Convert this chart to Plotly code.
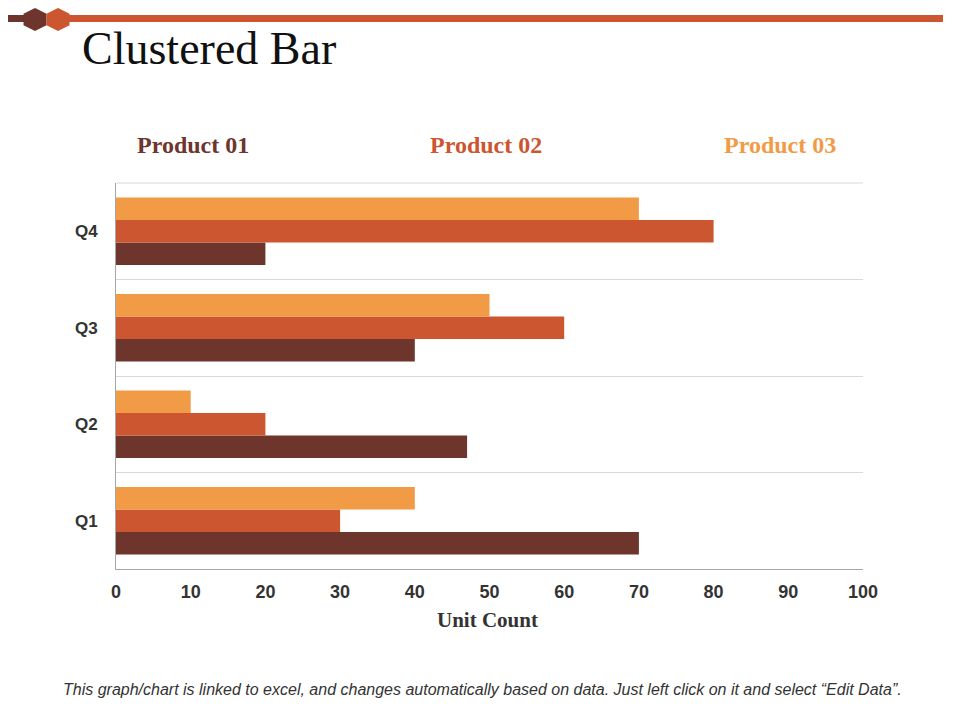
import plotly.graph_objects as go

quarters = ["Q1", "Q2", "Q3", "Q4"]
products = ["Product 01", "Product 02", "Product 03"]
product_01 = [70, 47, 40, 20]
product_02 = [30, 20, 60, 80]
product_03 = [40, 10, 50, 70]
colors = ["#6E352C", "#CC5630", "#F29B47"]

# the page puts the figure 8px in from the top-left corner
OFF = 8
W, H = 960 - OFF, 720 - OFF
# plot area in page pixels
L, R, T, B = 116, 863, 183, 569


def px(x):
    return (x - L) / (R - L)


def py(y):
    return (B - y) / (B - T)


def hexagon(cx, cy, hw, hh):
    pts = [(cx, cy - hh), (cx + hw, cy - hh / 2), (cx + hw, cy + hh / 2),
           (cx, cy + hh), (cx - hw, cy + hh / 2), (cx - hw, cy - hh / 2)]
    return "M " + " L ".join("%.4f,%.4f" % (px(a), py(b)) for a, b in pts) + " Z"


fig = go.Figure()
for name, vals, col in zip(products, [product_01, product_02, product_03], colors):
    fig.add_trace(go.Bar(y=quarters, x=vals, name=name, orientation="h",
                         marker=dict(color=col, line=dict(width=0)), showlegend=False))

shapes = [
    dict(type="rect", xref="paper", yref="paper", x0=px(0), x1=px(26), y0=py(15), y1=py(22),
         fillcolor=colors[0], line=dict(width=0), layer="above"),
    dict(type="rect", xref="paper", yref="paper", x0=px(60), x1=px(943), y0=py(15), y1=py(22),
         fillcolor=colors[1], line=dict(width=0), layer="above"),
    dict(type="path", xref="paper", yref="paper", path=hexagon(35, 19.5, 11.5, 11.5),
         fillcolor=colors[0], line=dict(width=0), layer="above"),
    dict(type="path", xref="paper", yref="paper", path=hexagon(58, 19.5, 11.5, 11.5),
         fillcolor=colors[1], line=dict(width=0), layer="above"),
    # top border of the plot area
    dict(type="line", xref="paper", yref="paper", x0=0, x1=1, y0=1, y1=1,
         line=dict(color="#d9d9d9", width=1), layer="below"),
]

annotations = [
    dict(text="Clustered Bar", xref="paper", yref="paper", x=px(80), y=py(48),
         xanchor="left", yanchor="middle", showarrow=False,
         font=dict(family="Liberation Serif", size=46, color="#111")),
    dict(text="<i>This graph/chart is linked to excel, and changes automatically based on data. "
              "Just left click on it and select \u201cEdit Data\u201d.</i>",
         xref="paper", yref="paper", x=px(482), y=py(689), xanchor="center", yanchor="middle",
         showarrow=False, font=dict(family="Liberation Sans", size=16, color="#333")),
    dict(text="<b>Unit Count</b>", xref="paper", yref="paper", x=px(487), y=py(620),
         xanchor="center", yanchor="middle", showarrow=False,
         font=dict(family="Liberation Serif", size=21, color="#333")),
]
for name, col, x in zip(products, colors, [135, 428, 722]):
    annotations.append(dict(text="<b>%s</b>" % name, xref="paper", yref="paper", x=px(x), y=py(145),
                            xanchor="left", yanchor="middle", showarrow=False,
                            font=dict(family="Liberation Serif", size=24, color=col)))

fig.update_layout(
    width=W, height=H,
    margin=dict(l=L - OFF, r=960 - R, t=T - OFF, b=720 - B),
    paper_bgcolor="white", plot_bgcolor="white",
    barmode="group", bargap=0.3, bargroupgap=0,
    shapes=shapes, annotations=annotations,
    xaxis=dict(range=[0, 100], dtick=10, showgrid=False, zeroline=False,
               showline=True, linecolor="#a6a6a6", linewidth=1,
               tickprefix="<b>", ticksuffix="</b>",
               tickfont=dict(family="Liberation Sans", size=18, color="#333"),
               ticks="", ticklabelstandoff=6, fixedrange=True),
    yaxis=dict(type="category", categoryorder="array", categoryarray=quarters,
               tickson="boundaries", showgrid=True, gridcolor="#d9d9d9", gridwidth=1,
               showline=True, linecolor="#a6a6a6", linewidth=1,
               tickprefix="<b>", ticksuffix="</b>",
               tickfont=dict(family="Liberation Sans", size=17, color="#333"),
               ticks="", ticklabelstandoff=14, fixedrange=True),
)

fig.write_html("out.html")
